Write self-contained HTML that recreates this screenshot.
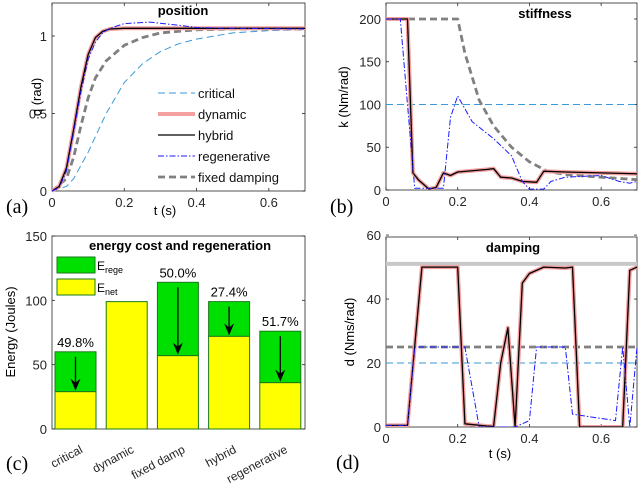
<!DOCTYPE html>
<html><head><meta charset="utf-8"><style>
body{margin:0;background:#fff;}
svg{display:block;font-family:"Liberation Sans",sans-serif;}
</style></head><body>
<svg id="fig" width="640" height="489" viewBox="0 0 640 489" xmlns="http://www.w3.org/2000/svg"></svg>
<script>
// ---- data ----
const posT_dyn=[0,0.02,0.04,0.06,0.08,0.1,0.12,0.14,0.16,0.2,0.7];
const posQ_dyn=[0,0.03,0.15,0.4,0.67,0.88,0.99,1.03,1.045,1.05,1.05];
const posT_reg=[0,0.02,0.04,0.06,0.08,0.1,0.12,0.14,0.16,0.2,0.27,0.35,0.4,0.5,0.7];
const posQ_reg=[0,0.02,0.13,0.38,0.64,0.85,0.96,1.02,1.05,1.08,1.09,1.07,1.055,1.05,1.045];
const posT_fix=[0,0.04,0.06,0.08,0.1,0.12,0.15,0.2,0.25,0.3,0.4,0.5,0.7];
const posQ_fix=[0,0.08,0.22,0.42,0.6,0.73,0.84,0.94,0.99,1.02,1.04,1.045,1.045];
const posT_crit=[0,0.04,0.06,0.1,0.15,0.2,0.25,0.3,0.35,0.4,0.5,0.6,0.7];
const posQ_crit=[0,0.03,0.08,0.25,0.5,0.7,0.82,0.9,0.95,0.98,1.02,1.035,1.04];

const stT_crit=[0,0.7], stK_crit=[100,100];
const stT_fix=[0,0.2,0.22,0.26,0.3,0.35,0.4,0.45,0.5,0.6,0.7];
const stK_fix=[200,200,160,105,75,50,33,22,18,15,12];
const stT_hyb=[0,0.06,0.075,0.09,0.12,0.14,0.16,0.18,0.2,0.28,0.3,0.32,0.35,0.38,0.42,0.44,0.5,0.6,0.7];
const stK_hyb=[200,200,20,12,1,3,20,17,21,24,25,15,14,10,9,22,21,20,19];
const stT_reg=[0,0.04,0.06,0.08,0.16,0.18,0.2,0.22,0.24,0.3,0.35,0.38,0.4,0.44,0.46,0.5,0.6,0.65,0.68,0.7];
const stK_reg=[200,200,100,2,2,85,110,95,80,60,40,10,1,1,10,15,17,10,8,10];

const dT_crit=[0,0.7], dD_crit=[20,20];
const dT_fix=[0,0.7], dD_fix=[25,25];
const dT_bound=[0,0.7], dD_upper=[51,51], dD_lower=[-1,-1];
const dT_hyb=[0,0.06,0.1,0.2,0.22,0.28,0.3,0.32,0.34,0.36,0.38,0.4,0.44,0.5,0.52,0.54,0.66,0.68,0.7];
const dD_hyb=[0.5,0.5,50,50,1,0.3,0.2,20,31,0,45,48,50,49.7,50,0,0,49,50];
const dT_reg=[0,0.06,0.08,0.22,0.26,0.36,0.4,0.42,0.5,0.52,0.64,0.66,0.68,0.7];
const dD_reg=[0.5,0.5,25,25,0,0,2,25,25,4,2,25,0,25];

const barCats=["critical","dynamic","fixed damp","hybrid","regenerative"];
const barTotal=[60,99,114,99,76];
const barNet=[29,99,57,72,36];
const barPct=["49.8%","","50.0%","27.4%","51.7%"];

// ---- helpers ----
const NS="http://www.w3.org/2000/svg";
const svg=document.getElementById('fig');
function el(tag,attrs,parent){const e=document.createElementNS(NS,tag);for(const k in attrs)e.setAttribute(k,attrs[k]);(parent||svg).appendChild(e);return e;}
function txt(s,attrs,parent){const e=el('text',attrs,parent);e.textContent=s;return e;}
function axes(ax){
  ax.sx=v=>ax.x0+(v-ax.xmin)/(ax.xmax-ax.xmin)*(ax.x1-ax.x0);
  ax.sy=v=>ax.y1-(v-ax.ymin)/(ax.ymax-ax.ymin)*(ax.y1-ax.y0);
  return ax;
}
function frame(ax,name,xt,yt,xlab){
  const g=el('g',{});
  
  
  el('rect',{x:ax.x0,y:ax.y0,width:ax.x1-ax.x0,height:ax.y1-ax.y0,fill:'#fff',stroke:'#262626','stroke-width':0.8},g);
  xt.forEach(v=>{const x=ax.sx(v);
    el('line',{x1:x,x2:x,y1:ax.y1,y2:ax.y1-3,stroke:'#262626','stroke-width':0.8},g);
    el('line',{x1:x,x2:x,y1:ax.y0,y2:ax.y0+3,stroke:'#262626','stroke-width':0.8},g);
    if(xlab){const t=txt(String(v),{x:x,y:ax.y1+16,'text-anchor':'middle','font-size':13,fill:'#262626'},g);
    }
  });
  yt.forEach(v=>{const y=ax.sy(v);
    el('line',{x1:ax.x0,x2:ax.x0+3,y1:y,y2:y,stroke:'#262626','stroke-width':0.8},g);
    el('line',{x1:ax.x1,x2:ax.x1-3,y1:y,y2:y,stroke:'#262626','stroke-width':0.8},g);
    const t=txt(String(v),{x:ax.x0-5,y:y+5,'text-anchor':'end','font-size':13,fill:'#262626'},g);
    
  });
  return g;
}
function line(ax,xs,ys,style,name){
  const d=xs.map((x,i)=>(i?'L':'M')+ax.sx(x).toFixed(1)+','+ax.sy(ys[i]).toFixed(1)).join('');
  const p=el('path',Object.assign({d:d,fill:'none','stroke-linejoin':'round'},style));
  
  
  return p;
}
function clip(ax,id){const c=el('clipPath',{id:id});el('rect',{x:ax.x0,y:ax.y0,width:ax.x1-ax.x0,height:ax.y1-ax.y0},c);return 'url(#'+id+')';}
const S={
  crit:{stroke:'#3a9ad9','stroke-width':1,'stroke-dasharray':'7,4'},
  dyn:{stroke:'#f4a0a0','stroke-width':4},
  hyb:{stroke:'#000','stroke-width':1.3},
  reg:{stroke:'#1a1aff','stroke-width':1,'stroke-dasharray':'6,2,1.5,2'},
  fix:{stroke:'#808080','stroke-width':2.8,'stroke-dasharray':'7,4'}
};
function wrap(ax,id){const g=el('g',{'clip-path':clip(ax,id)});return g;}

// ---- panel a ----
const A=axes({x0:52,x1:305,y0:3,y1:191,xmin:0,xmax:0.7,ymin:0,ymax:1.213});
frame(A,'position',[0,0.2,0.4,0.6],[0,0.5,1],true);
line(A,posT_crit,posQ_crit,S.crit,'critical-position-line');
line(A,posT_fix,posQ_fix,S.fix,'fixed-damping-position-line');
line(A,posT_dyn,posQ_dyn,S.dyn,'dynamic-position-line');
line(A,posT_dyn,posQ_dyn,S.hyb,'hybrid-position-line');
line(A,posT_reg,posQ_reg,S.reg,'regenerative-position-line');
txt('position',{x:183,y:15,'text-anchor':'middle','font-size':13,'font-weight':'bold'});
const leg=[['critical',S.crit],['dynamic',S.dyn],['hybrid',S.hyb],['regenerative',S.reg],['fixed damping',S.fix]];
leg.forEach((l,i)=>{const y=93+i*21;
  const g=el('g',{});
  el('line',Object.assign({x1:158,x2:195,y1:y,y2:y},l[1]),g);
  txt(l[0],{x:198,y:y+5,'font-size':13,fill:'#111'},g);
});
txt('q (rad)',{x:0,y:0,'font-size':13,transform:'translate(41,97) rotate(-90)','text-anchor':'middle'});
txt('t (s)',{x:165,y:215,'font-size':13,'text-anchor':'middle'});
txt('(a)',{x:6,y:213,'font-size':20,'font-family':'Liberation Serif'});

// ---- panel b ----
const B=axes({x0:386,x1:637,y0:3,y1:190,xmin:0,xmax:0.7,ymin:0,ymax:218.7});
frame(B,'stiffness',[0,0.2,0.4,0.6],[0,50,100,150,200],true);
const gb=wrap(B,'cb');
[[stT_crit,stK_crit,S.crit,'critical-stiffness-line'],[stT_fix,stK_fix,S.fix,'fixed-stiffness-line'],[stT_hyb,stK_hyb,S.dyn,'dynamic-stiffness-line'],[stT_hyb,stK_hyb,S.hyb,'hybrid-stiffness-line'],[stT_reg,stK_reg,S.reg,'regenerative-stiffness-line']].forEach(a=>gb.appendChild(line(B,a[0],a[1],a[2],a[3])));
txt('stiffness',{x:545,y:18,'text-anchor':'middle','font-size':13,'font-weight':'bold'});
txt('k (Nm/rad)',{x:0,y:0,'font-size':13,transform:'translate(348,97) rotate(-90)','text-anchor':'middle'});
txt('(b)',{x:330,y:213,'font-size':20,'font-family':'Liberation Serif'});

// ---- panel c ----
const C=axes({x0:52,x1:305,y0:236,y1:429,xmin:0,xmax:1,ymin:0,ymax:150});
frame(C,'energy',[],[0,50,100,150],false);
txt('energy cost and regeneration',{x:180,y:250,'text-anchor':'middle','font-size':13,'font-weight':'bold'});
const bw=41, bx0=55, bstep=51.2;
barCats.forEach((c,i)=>{const x=bx0+i*bstep;
  const r1=el('rect',{x:x,y:C.sy(barTotal[i]),width:bw,height:C.sy(barNet[i])-C.sy(barTotal[i]),fill:'#00e000',stroke:'#1a7a1a','stroke-width':1});
  
  const r2=el('rect',{x:x,y:C.sy(barNet[i]),width:bw,height:C.sy(0)-C.sy(barNet[i]),fill:'#ffff00',stroke:'#1a7a1a','stroke-width':1});
  
  if(barPct[i]){
    const t=txt(barPct[i],{x:x+bw/2,y:C.sy(barTotal[i])-5,'text-anchor':'middle','font-size':13});
    
    const cx=x+bw/2, ya=C.sy(barTotal[i])+5, yb=C.sy(barNet[i])-1;
    el('line',{x1:cx,x2:cx,y1:ya,y2:yb-8,stroke:'#000','stroke-width':1.3});
    el('path',{d:`M${cx-5},${yb-12}L${cx},${yb}L${cx+5},${yb-12}L${cx},${yb-8}Z`,fill:'#000'});
  }
  const lt=txt(c,{x:0,y:0,'font-size':12,'text-anchor':'end',transform:`translate(${x+bw/2+8},${452}) rotate(-28)`,fill:'#262626'});
  
});
const lg1=el('g',{});
el('rect',{x:57,y:257,width:38,height:16,fill:'#00e000',stroke:'#1a7a1a'},lg1);
const tr=txt('E',{x:97,y:270,'font-size':12},lg1);const s1=el('tspan',{'font-size':9,dy:3},tr);s1.textContent='rege';
const lg2=el('g',{});
el('rect',{x:57,y:279,width:38,height:16,fill:'#ffff00',stroke:'#1a7a1a'},lg2);
const tn=txt('E',{x:97,y:292,'font-size':12},lg2);const s2=el('tspan',{'font-size':9,dy:3},tn);s2.textContent='net';
txt('Energy (Joules)',{x:0,y:0,'font-size':13,transform:'translate(15,332) rotate(-90)','text-anchor':'middle'});
txt('(c)',{x:6,y:470,'font-size':20,'font-family':'Liberation Serif'});

// ---- panel d ----
const D=axes({x0:386,x1:637,y0:237,y1:427,xmin:0,xmax:0.7,ymin:0,ymax:59.4});
frame(D,'damping',[0,0.2,0.4,0.6],[0,20,40,60],true);
const gd=wrap(D,'cd');
gd.appendChild(line(D,dT_bound,dD_upper,{stroke:'#c8c8c8','stroke-width':4},'upper-damping-bound'));
gd.appendChild(line(D,dT_bound,dD_lower,{stroke:'#c8c8c8','stroke-width':4},'lower-damping-bound'));
[[dT_crit,dD_crit,S.crit,'critical-damping-line'],[dT_fix,dD_fix,S.fix,'fixed-damping-line'],[dT_hyb,dD_hyb,S.dyn,'dynamic-damping-line'],[dT_hyb,dD_hyb,S.hyb,'hybrid-damping-line'],[dT_reg,dD_reg,S.reg,'regenerative-damping-line']].forEach(a=>gd.appendChild(line(D,a[0],a[1],a[2],a[3])));
txt('damping',{x:513,y:252,'text-anchor':'middle','font-size':13,'font-weight':'bold'});
txt('d (Nms/rad)',{x:0,y:0,'font-size':13,transform:'translate(354,332) rotate(-90)','text-anchor':'middle'});
txt('t (s)',{x:500,y:458,'font-size':13,'text-anchor':'middle'});
txt('(d)',{x:336,y:469,'font-size':20,'font-family':'Liberation Serif'});
</script>
</body></html>
